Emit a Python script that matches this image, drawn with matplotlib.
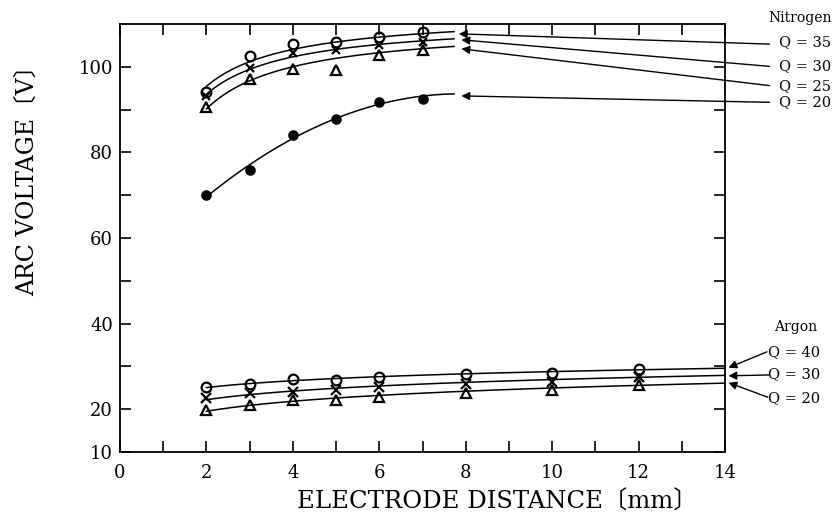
import numpy as np
import matplotlib
matplotlib.use("Agg")
import matplotlib.pyplot as plt
from matplotlib.ticker import MultipleLocator, FixedLocator

# ---- data ----
n2_x = [2, 3, 4, 5, 6, 7]
n2_q35 = [94.2, 102.6, 105.4, 105.9, 106.9, 108.2]
n2_q30 = [93.2, 99.7, 103.2, 104.0, 105.1, 105.9]
n2_q25 = [90.7, 97.1, 99.5, 99.3, 102.8, 104.0]
n2_q20 = [70.1, 75.9, 84.1, 87.8, 91.7, 92.5]
n2_curve_end_x = 7.73
n2_curve_end_y = [108.0, 106.5, 105.1, 93.7]

ar_x = [2, 3, 4, 5, 6, 8, 10, 12]
ar_q40 = [25.1, 26.0, 27.0, 26.8, 27.6, 28.2, 28.5, 29.3]
ar_q30 = [22.6, 23.7, 24.1, 24.4, 25.2, 26.0, 26.4, 27.6]
ar_q20 = [19.9, 21.0, 22.1, 22.1, 22.9, 23.7, 24.6, 25.6]
ar_curve_end_x = 14.0
ar_curve_end_y = [29.6, 28.0, 26.2]

n2_labels = ["Q = 35", "Q = 30", "Q = 25", "Q = 20"]
ar_labels = ["Q = 40", "Q = 30", "Q = 20"]

SERIF = ['DejaVu Serif', 'Noto Sans CJK JP', 'DejaVu Sans']
plt.rcParams['font.family'] = SERIF

fig = plt.figure(figsize=(8.34, 5.24), dpi=100)
ax = fig.add_axes([120/834, 1-452/524, 605/834, 428/524])


def fit_curve(xs, ys, xend, yend, basis):
    xs = np.asarray(list(xs) + [xend], float)
    ys = np.asarray(list(ys) + [yend], float)
    w = np.ones_like(xs)
    w[-1] = 3.0
    A = np.column_stack([f(xs) for f in basis]) * w[:, None]
    coef, *_ = np.linalg.lstsq(A, ys * w, rcond=None)
    xx = np.linspace(xs[0], xend, 200)
    yy = np.column_stack([f(xx) for f in basis]) @ coef
    return xx, yy

sat = [lambda t: np.ones_like(t), lambda t: 1.0 / t]
quad = [lambda t: np.ones_like(t), lambda t: t, lambda t: t ** 2]
logb = [lambda t: np.ones_like(t), lambda t: np.log(t)]

lw = 1.1
ms = 7
# Nitrogen
n2_series = [(n2_q35, 'o', 'none', sat), (n2_q30, 'x', 'k', sat),
             (n2_q25, '^', 'none', sat), (n2_q20, 'o', 'k', quad)]
for (ys, mk, fc, basis), ye in zip(n2_series, n2_curve_end_y):
    xx, yy = fit_curve(n2_x, ys, n2_curve_end_x, ye, basis)
    ax.plot(xx, yy, color='k', lw=lw)
    ax.plot(n2_x, ys, linestyle='none', marker=mk, ms=ms if fc == 'none' else 6,
            mfc=fc, mec='k', mew=1.6)

# Argon
ar_series = [(ar_q40, 'o', 'none'), (ar_q30, 'x', 'k'), (ar_q20, '^', 'none')]
for (ys, mk, fc), ye in zip(ar_series, ar_curve_end_y):
    xx, yy = fit_curve(ar_x, ys, ar_curve_end_x, ye, logb)
    ax.plot(xx, yy, color='k', lw=lw)
    ax.plot(ar_x, ys, linestyle='none', marker=mk, ms=ms,
            mfc=fc, mec='k', mew=1.6)

ax.set_xlim(0, 14)
ax.set_ylim(10, 110)
ax.xaxis.set_major_locator(FixedLocator([0, 2, 4, 6, 8, 10, 12, 14]))
ax.xaxis.set_minor_locator(MultipleLocator(1))
ax.yaxis.set_major_locator(FixedLocator([10, 20, 40, 60, 80, 100]))
ax.yaxis.set_minor_locator(FixedLocator([30, 50, 70, 90]))
ax.tick_params(which='both', direction='in', top=True, right=True, length=8, width=1.2, labelsize=13)
ax.tick_params(axis='x', pad=9)
ax.tick_params(axis='y', pad=5)
for s in ax.spines.values():
    s.set_linewidth(1.3)

# annotations nitrogen
arrow = dict(arrowstyle='-|>', color='k', lw=1.0, mutation_scale=12, shrinkA=0, shrinkB=0)
n2_tips = [(7.84, 107.7), (7.9, 106.3), (7.9, 104.2), (7.9, 93.2)]
n2_tails = [(15.03, 105.3), (15.03, 100.1), (15.03, 95.6), (15.03, 91.7)]
for (tx, ty), (sx, sy) in zip(n2_tips, n2_tails):
    ax.annotate('', xy=(tx, ty), xytext=(sx, sy), arrowprops=arrow, annotation_clip=False)
n2_label_y = [42, 66, 86, 102]
fig.text(832/834, 1-18/524, "Nitrogen", ha='right', va='center', fontsize=10)
for lab, py in zip(n2_labels, n2_label_y):
    fig.text(831/834, 1-py/524, lab, ha='right', va='center', fontsize=10.5)

ar_tips = [(14.08, 29.7), (14.08, 27.8), (14.08, 26.2)]
ar_tails = [(14.97, 33.4), (15.01, 28.0), (14.99, 22.8)]
for (tx, ty), (sx, sy) in zip(ar_tips, ar_tails):
    ax.annotate('', xy=(tx, ty), xytext=(sx, sy), arrowprops=arrow, annotation_clip=False)
ar_label_y = [352, 374, 398]
fig.text(817/834, 1-327/524, "Argon", ha='right', va='center', fontsize=10)
for lab, py in zip(ar_labels, ar_label_y):
    fig.text(820/834, 1-py/524, lab, ha='right', va='center', fontsize=10.5)

fig.text(497/834, 1-502/524, "ELECTRODE DISTANCE〔mm〕", ha='center', va='center', fontsize=17.5)
fig.text(27/834, 1-175/524, "ARC VOLTAGE〔V〕", ha='center', va='center', rotation=90, fontsize=17)

fig.savefig("out.png", dpi=100)
